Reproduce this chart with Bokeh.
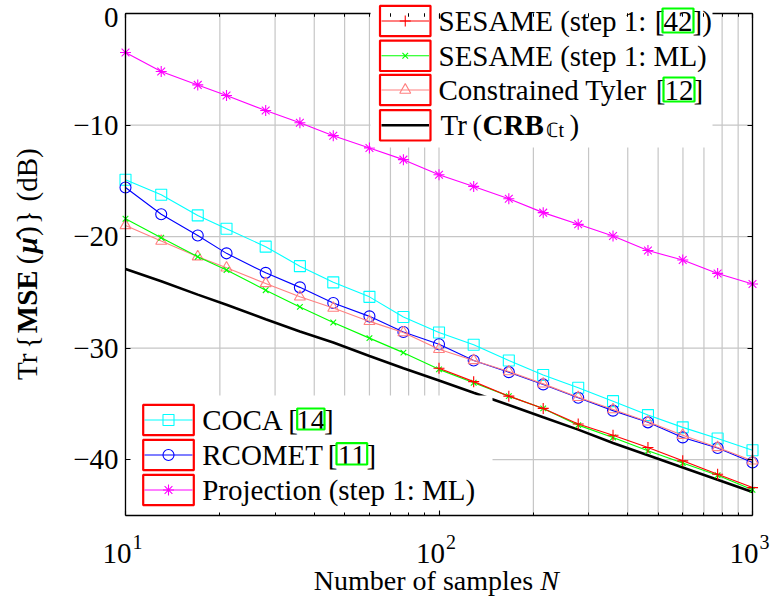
from math import pi
from bokeh.plotting import figure
from bokeh.models import FixedTicker, Label, BoxAnnotation, LinearAxis, Range1d
from bokeh.embed import file_html
from bokeh.resources import INLINE

# ---------------- data ----------------
N = [10, 13, 17, 21, 28, 36, 46, 60, 77, 100, 129, 167, 215, 278, 359, 464, 599, 774, 1000]
N_42 = [100, 129, 167, 215, 278, 359, 464, 599, 774, 1000]
sesame_42 = [-31.8, -33.0, -34.3, -35.4, -36.8, -37.8, -38.9, -40.1, -41.3, -42.5]
sesame_ml = [-18.4, -20.1, -21.8, -23.0, -24.8, -26.3, -27.7, -29.1, -30.4, -31.9,
             -33.1, -34.3, -35.4, -36.9, -38.0, -39.2, -40.3, -41.4, -42.7]
tyler = [-19.0, -20.4, -21.8, -22.8, -24.2, -25.4, -26.4, -27.6, -28.6, -30.1,
         -31.1, -32.1, -33.2, -34.4, -35.5, -36.6, -37.8, -38.9, -40.1]
crb = [-22.9, -24.0, -25.2, -26.1, -27.4, -28.5, -29.5, -30.7, -31.8, -32.9,
       -34.0, -35.1, -36.2, -37.3, -38.5, -39.6, -40.7, -41.8, -42.9]
coca = [-14.9, -16.25, -18.1, -19.3, -20.9, -22.65, -24.1, -25.4, -27.2, -28.6,
        -29.7, -31.1, -32.4, -33.55, -34.75, -36.0, -37.1, -38.1, -39.15]
rcomet = [-15.6, -18.0, -19.9, -21.5, -23.25, -24.55, -25.95, -27.15, -28.55, -29.65,
          -31.1, -32.15, -33.25, -34.45, -35.6, -36.65, -38.0, -38.95, -40.25]
projection = [-3.5, -5.2, -6.4, -7.35, -8.7, -9.8, -10.95, -12.05, -13.1, -14.45,
              -15.5, -16.6, -17.85, -18.9, -19.95, -21.25, -22.1, -23.3, -24.25]

x_lim = (10, 1000)
y_lim = (-45, 0)
x_major = [10, 100, 1000]
x_minor = [20, 30, 40, 50, 60, 70, 80, 90, 200, 300, 400, 500, 600, 700, 800, 900]
x_tick_exps = ["1", "2", "3"]
y_ticks = [-40, -30, -20, -10, 0]
y_grid = [-40, -30, -20, -10]
y_tick_labels = ["\u221240", "\u221230", "\u221220", "\u221210", "0"]

FONT = "Liberation Serif"
FS = "29px"
GRID = "#c6c6c6"
RED, GREEN, PINK, CYAN, BLUE, MAGENTA = "#ff0000", "#00ff00", "#ff8080", "#00ffff", "#0000ff", "#ff00ff"

# pixel (page) -> data helpers, used only for layout of the frame and decorations
W, H = 772, 597
XL, XPD = 125.0, 313.5
YT, YPD = 13.0, 502.0 / 45.0
def fx(px):
    return 10 ** (1 + (px - XL) / XPD)
def fy(py):
    return -(py - YT) / YPD

# ---------------- figure: the frame spans the whole canvas, axes sit at fixed locations ----
p = figure(width=W, height=H, x_axis_type="log",
           x_range=Range1d(fx(0), fx(W)), y_range=Range1d(fy(H), fy(0)),
           output_backend="svg", toolbar_location=None,
           min_border=0, min_border_left=0, min_border_right=0, min_border_top=0, min_border_bottom=0,
           background_fill_color="white", border_fill_color="white", outline_line_color=None)
p.xgrid.visible = False
p.ygrid.visible = False

def style_axis(a, minor_in):
    a.axis_line_color = "black"
    a.axis_line_width = 1.3
    a.major_tick_in = 5
    a.major_tick_out = 0
    a.minor_tick_in = minor_in
    a.minor_tick_out = 0
    a.major_tick_line_color = "black"
    a.minor_tick_line_color = "black"
    a.major_tick_line_width = 1.1
    a.minor_tick_line_width = 1.0
    a.major_label_text_color = None
    a.major_label_text_font_size = "1px"
    a.major_label_standoff = 0

xb = p.xaxis[0]
xb.ticker = FixedTicker(ticks=x_major, minor_ticks=x_minor)
xb.fixed_location = y_lim[0]
xb.bounds = x_lim
style_axis(xb, 3)

yl = p.yaxis[0]
yl.ticker = FixedTicker(ticks=y_ticks, minor_ticks=[])
yl.fixed_location = x_lim[0]
yl.bounds = y_lim
style_axis(yl, 0)

yr = LinearAxis(ticker=FixedTicker(ticks=y_ticks, minor_ticks=[]), fixed_location=x_lim[1], bounds=y_lim)
style_axis(yr, 0)
p.add_layout(yr, "right")

# top frame line, interrupted where the upper legend box sits
for bnd in [(x_lim[0], fx(370)), (fx(712), x_lim[1])]:
    xa = LinearAxis(ticker=FixedTicker(ticks=x_major, minor_ticks=x_minor), fixed_location=y_lim[1], bounds=bnd)
    style_axis(xa, 3)
    p.add_layout(xa, "above")

# grid lines at the tick positions
xg = x_major + x_minor
p.segment(x0=xg, y0=[y_lim[0]] * len(xg), x1=xg, y1=[y_lim[1]] * len(xg),
          line_color=GRID, line_width=1.2)
p.segment(x0=[x_lim[0]] * len(y_grid), y0=y_grid, x1=[x_lim[1]] * len(y_grid), y1=y_grid,
          line_color=GRID, line_width=1.2)

# ---------------- data series ----------------
p.line(N, crb, line_color="black", line_width=2.6)
p.line(N, coca, line_color=CYAN, line_width=1.1)
p.scatter(N, coca, marker="square", size=11, fill_color=None, line_color=CYAN, line_width=1.1)
p.line(N, rcomet, line_color=BLUE, line_width=1.1)
p.scatter(N, rcomet, marker="circle", size=11, fill_color=None, line_color=BLUE, line_width=1.1)
p.line(N, tyler, line_color=PINK, line_width=1.1)
p.scatter(N, tyler, marker="triangle", size=11, fill_color=None, line_color=PINK, line_width=1.1)
p.line(N, sesame_ml, line_color=GREEN, line_width=1.1)
p.scatter(N, sesame_ml, marker="x", size=8, line_color=GREEN, line_width=1.1)
p.line(N_42, sesame_42, line_color=RED, line_width=1.1)
p.scatter(N_42, sesame_42, marker="cross", size=11, line_color=RED, line_width=1.1)
p.line(N, projection, line_color=MAGENTA, line_width=1.1)
p.scatter(N, projection, marker="asterisk", size=11, line_color=MAGENTA, line_width=1.1)

# ---------------- legend backgrounds (above curves, below axes) ----------------
def wbox(l, r, t, b):
    bx = BoxAnnotation(left=fx(l), right=fx(r), top=fy(t), bottom=fy(b),
                       fill_color="white", fill_alpha=1, line_alpha=0, level="glyph")
    p.renderers.append(bx)

wbox(370, 712, 4, 147)
wbox(125.7, 492, 395, 515)

def sample(x0, x1, yc, color, marker, size, lw=1.1):
    p.line([fx(x0), fx(x1)], [fy(yc), fy(yc)], line_color=color, line_width=lw)
    if marker:
        xm = fx((x0 + x1) / 2)
        p.scatter([xm], [fy(yc)], marker=marker, size=size, fill_color=None,
                  line_color=color, line_width=1.1)

top_rows = [20.5, 55.3, 89.5, 124.8]
bot_rows = [419.5, 454.5, 489.5]
top_styles = [(RED, "cross", 11, 1.1), (GREEN, "x", 8, 1.1), (PINK, "triangle", 11, 1.1), ("black", None, 0, 2.6)]
bot_styles = [(CYAN, "square", 11, 1.1), (BLUE, "circle", 11, 1.1), (MAGENTA, "asterisk", 11, 1.1)]

for yc, (c, m, s, lw) in zip(top_rows, top_styles):
    sample(381, 428.5, yc, c, m, s, lw)
for yc, (c, m, s, lw) in zip(bot_rows, bot_styles):
    sample(144, 192, yc, c, m, s, lw)

# ---------------- annotations (texts and link boxes) ----------------
def box(l, r, t, b, line, lw=2.2):
    bx = BoxAnnotation(left=fx(l), right=fx(r), top=fy(t), bottom=fy(b),
                       fill_alpha=0, line_color=line, line_alpha=1.0, line_width=lw)
    p.add_layout(bx)

def lab(x, y, text, size=FS, style="normal", align="center", base="middle", angle=0.0):
    l = Label(x=x, y=y, text=text, text_font=FONT, text_font_size=size,
              text_font_style=style, text_align=align, text_baseline=base,
              text_color="black", angle=angle)
    p.add_layout(l)

for yc in top_rows:
    box(379.5, 430, yc - 15.2, yc + 15.2, RED)
for yc in bot_rows:
    box(142.7, 193.3, yc - 15.2, yc + 15.2, RED)

# tick labels
for v, t in zip(y_ticks, y_tick_labels):
    lab(fx(118), v if v < 0 else fy(16.5), t, align="right")
for v, e in zip(x_major, x_tick_exps):
    lab(v * 10 ** (6 / XPD), fy(553), "10", align="right", base="alphabetic")
    lab(v * 10 ** (7 / XPD), fy(541), e, size="20px", align="left", base="alphabetic")

# axis titles
lab(fx(423), fy(580), "Number of samples", size="28px", base="middle")
lab(fx(549), fy(580), "N", size="28px", style="italic", base="middle")

ypieces = [("Tr", 366.3, "normal"), ("{", 341.6, "normal"), ("MSE", 301.3, "bold"),
           ("(", 259.0, "normal"), ("\u03bc\u0302", 244.8, "bold italic"), (")", 230.6, "normal"),
           ("}", 216.8, "normal"), ("(dB)", 174.3, "normal")]
for t, py, st in ypieces:
    lab(fx(26), fy(py), t, style=st, angle=pi / 2)

# upper legend texts
y1, y2, y3, y4 = top_rows
lab(fx(438), fy(y1), "SESAME (step 1: ", align="left")
lab(fx(664), fy(y1), "[", align="right")
lab(fx(677.5), fy(y1), "42")
lab(fx(692), fy(y1), "])", align="left")
box(662, 693, y1 - 12.5, y1 + 11.5, GREEN)

lab(fx(438), fy(y2), "SESAME (step 1: ML)", align="left")

lab(fx(438), fy(y3), "Constrained Tyler ", align="left")
lab(fx(665), fy(y3), "[", align="right")
lab(fx(678.5), fy(y3), "12")
lab(fx(693), fy(y3), "]", align="left")
box(663, 694, y3 - 12.5, y3 + 11.5, GREEN)

lab(fx(440), fy(y4), "Tr", align="left")
lab(fx(472), fy(y4), "(", align="left")
lab(fx(482), fy(y4), "CRB", style="bold", align="left")
lab(fx(545), fy(y4 + 5), "\u2102t", size="20px", align="left")
lab(fx(569), fy(y4), ")", align="left")

# lower legend texts
b1, b2, b3 = bot_rows
lab(fx(201.7), fy(b1), "COCA ", align="left")
lab(fx(297.5), fy(b1), "[", align="right")
lab(fx(310.3), fy(b1), "14")
lab(fx(323.5), fy(b1), "]", align="left")
box(296.7, 324, b1 - 11.5, b1 + 9.5, GREEN)

lab(fx(201.7), fy(b2), "RCOMET ", align="left")
lab(fx(337), fy(b2), "[", align="right")
lab(fx(351.3), fy(b2), "11")
lab(fx(366), fy(b2), "]", align="left")
box(336, 366.7, b2 - 11.8, b2 + 9.5, GREEN)

lab(fx(201.7), fy(b3), "Projection (step 1: ML)", align="left")

open("out.html", "w").write(file_html(p, INLINE))
